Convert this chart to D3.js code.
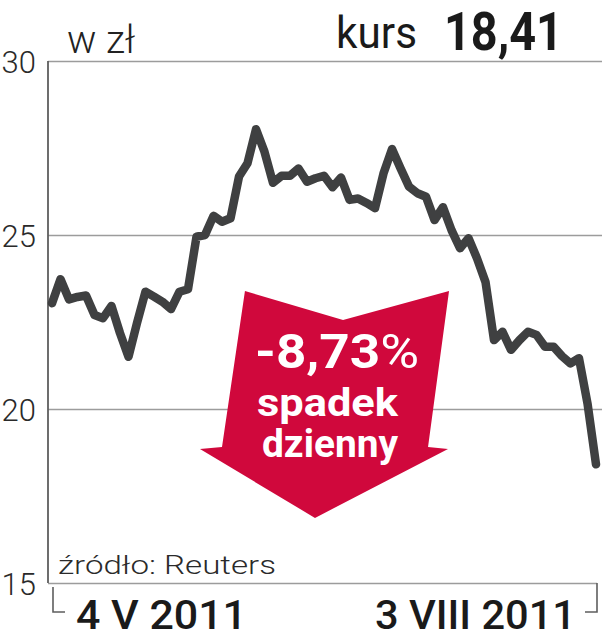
<!DOCTYPE html>
<html>
<head>
<meta charset="utf-8">
<script src="https://cdn.jsdelivr.net/npm/d3@7"></script>
<style>
  html, body { margin: 0; padding: 0; background: #fff; }
  svg { display: block; font-family: Roboto, "Noto Sans", sans-serif; }
</style>
</head>
<body>
<svg id="chart" width="602" height="640"></svg>
<script>
// ---- data ----
const dayIndex = d3.range(65); // trading days 4 V 2011 .. 3 VIII 2011
const closePrice = [
  23.04, 23.73, 23.15, 23.22, 23.26, 22.70, 22.61, 22.96, 22.18, 21.50,
  22.47, 23.37, 23.23, 23.08, 22.87, 23.37, 23.44, 24.95, 25.00, 25.55,
  25.38, 25.48, 26.68, 27.06, 28.04, 27.39, 26.50, 26.70, 26.70, 26.91,
  26.53, 26.63, 26.70, 26.37, 26.65, 26.01, 26.05, 25.92, 25.77, 26.77,
  27.47, 26.92, 26.39, 26.20, 26.10, 25.43, 25.80, 25.14, 24.62, 24.91,
  24.33, 23.65, 21.98, 22.22, 21.70, 21.98, 22.22, 22.13, 21.79, 21.79,
  21.52, 21.31, 21.46, 20.16, 18.41
];
const yTicks = [15, 20, 25, 30];
const dateLabels = ["4 V 2011", "3 VIII 2011"];
const unitLabel = "w zł";
const priceLabel = "kurs";
const lastPrice = "18,41";
const changeLabel = ["-8,73", "%"];
const changeText = ["spadek", "dzienny"];
const sourceLabel = "źródło: Reuters";

// ---- layout ----
const W = 602, H = 640;
const plotLeft = 48, plotRight = 602, plotTop = 61, plotBottom = 583;
const svg = d3.select("#chart");

const x = d3.scaleLinear().domain([0, 64]).range([52, 596]);
const y = d3.scaleLinear().domain([15, 30]).range([plotBottom, plotTop]);

// gridlines + tick labels via axis
const yAxis = d3.axisLeft(y)
  .tickValues(yTicks)
  .tickSize(-(plotRight - plotLeft))
  .tickPadding(12)
  .tickFormat(d => d);

const gAxis = svg.append("g")
  .attr("transform", `translate(${plotLeft},0)`)
  .call(yAxis);
gAxis.select(".domain").remove();
gAxis.selectAll(".tick line")
  .attr("stroke", "#9c9c9c")
  .attr("stroke-width", 1.7)
  .attr("x1", 0)
  .attr("x2", d => d === 15 ? (597 - plotLeft) : (plotRight - plotLeft));
gAxis.selectAll(".tick text")
  .attr("fill", "#2a2a2a")
  .attr("font-size", 31)
  .attr("font-weight", 300)
  .attr("dy", "0.37em")
  .attr("font-family", "Roboto, sans-serif");

// left axis line
svg.append("line")
  .attr("x1", plotLeft).attr("x2", plotLeft)
  .attr("y1", y(30)).attr("y2", y(15))
  .attr("stroke", "#5e5e5e").attr("stroke-width", 1.8);

// bottom brackets
svg.append("path")
  .attr("d", `M53,587 V612 H65`)
  .attr("fill", "none").attr("stroke", "#5e5e5e").attr("stroke-width", 1.6);
svg.append("path")
  .attr("d", `M597,${y(15)} V612 H585`)
  .attr("fill", "none").attr("stroke", "#5e5e5e").attr("stroke-width", 1.6);

// red arrow annotation (shape defined in data space through the scales)
const arrowShape = [
  [22.7, 23.39], [34.24, 22.56], [46.71, 23.39], [44.24, 18.91],
  [46.59, 18.85], [30.94, 16.87], [17.41, 18.85], [20.0, 18.91]
];
svg.append("path")
  .attr("d", d3.line().x(d => x(d[0])).y(d => y(d[1])).curve(d3.curveLinearClosed)(arrowShape))
  .attr("fill", "#d0083c");

const aText = svg.append("g").attr("fill", "#fff").attr("font-family", "Roboto, sans-serif");
const t1 = aText.append("text")
  .attr("x", 255).attr("y", 368)
  .attr("font-size", 49)
  .attr("textLength", 164).attr("lengthAdjust", "spacingAndGlyphs");
t1.append("tspan").attr("font-weight", 700).text(changeLabel[0]);
t1.append("tspan").attr("font-weight", 400).text(changeLabel[1]);
aText.append("text")
  .attr("x", 257).attr("y", 416)
  .attr("font-size", 38).attr("font-weight", 700)
  .attr("textLength", 141).attr("lengthAdjust", "spacingAndGlyphs")
  .text(changeText[0]);
aText.append("text")
  .attr("x", 262).attr("y", 457)
  .attr("font-size", 38).attr("font-weight", 700)
  .attr("textLength", 136).attr("lengthAdjust", "spacingAndGlyphs")
  .text(changeText[1]);

// price line
const line = d3.line()
  .x((d, i) => x(dayIndex[i]))
  .y(d => y(d));
svg.append("path")
  .datum(closePrice)
  .attr("d", line)
  .attr("fill", "none")
  .attr("stroke", "#3f4041")
  .attr("stroke-width", 8.5)
  .attr("stroke-linejoin", "round")
  .attr("stroke-linecap", "round");

// header texts
svg.append("text")
  .attr("x", 67).attr("y", 53)
  .attr("font-size", 38).attr("font-weight", 300).attr("fill", "#222")
  .attr("textLength", 68).attr("lengthAdjust", "spacingAndGlyphs")
  .text(unitLabel);
svg.append("text")
  .attr("x", 336).attr("y", 48)
  .attr("font-size", 45).attr("font-weight", 400).attr("fill", "#1a1a1a")
  .attr("textLength", 81).attr("lengthAdjust", "spacingAndGlyphs")
  .text(priceLabel);
svg.append("text")
  .attr("x", 444).attr("y", 50)
  .attr("font-size", 53).attr("font-weight", 700).attr("fill", "#1a1a1a")
  .attr("textLength", 119).attr("lengthAdjust", "spacingAndGlyphs")
  .text(lastPrice);

// source
svg.append("text")
  .attr("x", 58).attr("y", 574)
  .attr("font-size", 26).attr("font-weight", 300).attr("fill", "#2a2a2a")
  .attr("textLength", 218).attr("lengthAdjust", "spacingAndGlyphs")
  .text(sourceLabel);

// date labels
svg.append("text")
  .attr("x", 76).attr("y", 629)
  .attr("font-size", 40).attr("font-weight", 500).attr("fill", "#1a1a1a")
  .attr("textLength", 171).attr("lengthAdjust", "spacingAndGlyphs")
  .text(dateLabels[0]);
svg.append("text")
  .attr("x", 375).attr("y", 629)
  .attr("font-size", 40).attr("font-weight", 500).attr("fill", "#1a1a1a")
  .attr("textLength", 201).attr("lengthAdjust", "spacingAndGlyphs")
  .text(dateLabels[1]);
</script>
</body>
</html>
